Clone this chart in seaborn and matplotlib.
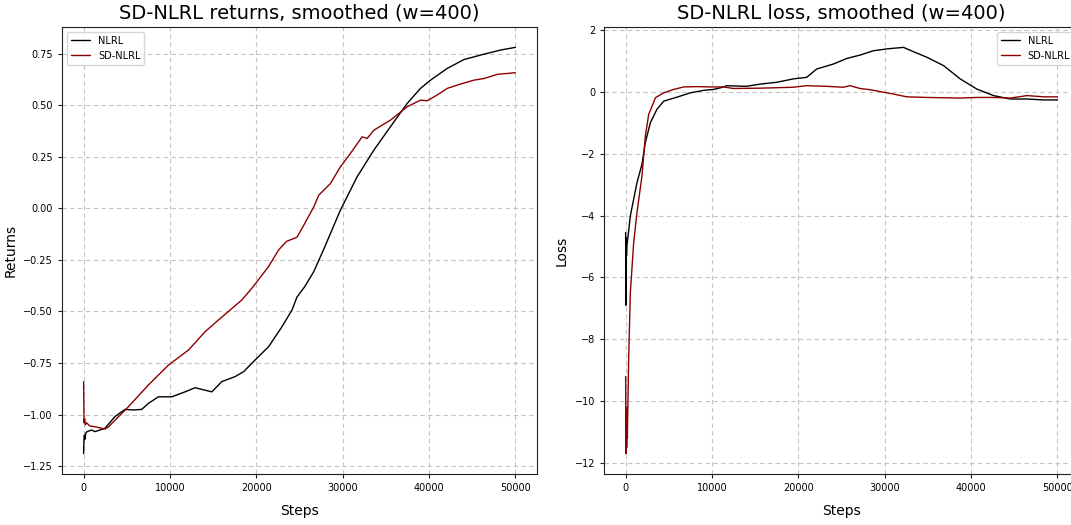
import numpy as np
import pandas as pd
import seaborn as sns
import matplotlib
matplotlib.use("Agg")
import matplotlib.pyplot as plt

# ---------- data (smoothed curves, w=400) ----------
# returns, NLRL
ret_nlrl_steps = [0, 40, 90, 150, 250, 400, 930, 1310, 2470, 3630, 4790, 5760, 6730,
                  7500, 8660, 10210, 11750, 12910, 14850, 16010, 17550, 18530, 19870,
                  21420, 22970, 24130, 24710, 25600, 26650, 27810, 29730, 31670, 33600,
                  35530, 37470, 39010, 40170, 42110, 44050, 46370, 48290, 50000]
ret_nlrl_vals = [-1.19, -1.12, -1.10, -1.12, -1.09, -1.083, -1.075, -1.083, -1.067, -1.01,
                 -0.975, -0.978, -0.975, -0.946, -0.914, -0.914, -0.89, -0.87, -0.89,
                 -0.84, -0.816, -0.792, -0.735, -0.671, -0.574, -0.493, -0.43, -0.38,
                 -0.307, -0.198, -0.009, 0.153, 0.282, 0.396, 0.509, 0.582, 0.622, 0.679,
                 0.722, 0.748, 0.768, 0.781]

# returns, SD-NLRL
ret_sd_steps = [0, 50, 120, 200, 350, 700, 1310, 2470, 2870, 5190, 7500, 9830, 12150,
                14070, 15630, 18330, 19490, 21420, 22590, 23500, 24710, 25490, 26650,
                27230, 28570, 29730, 30890, 32250, 32830, 33600, 35530, 37470, 39010,
                39790, 40950, 42110, 43650, 45200, 46370, 47910, 50000]
ret_sd_vals = [-0.84, -1.04, -1.02, -1.05, -1.04, -1.055, -1.059, -1.07, -1.06, -0.962,
               -0.857, -0.76, -0.687, -0.598, -0.541, -0.444, -0.387, -0.282, -0.201,
               -0.16, -0.14, -0.082, 0.007, 0.064, 0.12, 0.201, 0.266, 0.347, 0.339,
               0.379, 0.428, 0.493, 0.525, 0.522, 0.55, 0.582, 0.603, 0.622, 0.63, 0.65,
               0.658]

# loss, NLRL
loss_nlrl_steps = [0, 30, 60, 100, 150, 545, 930, 1310, 1890, 2280, 2860, 3630, 4410,
                   5950, 7500, 9050, 10210, 11370, 11680, 14000, 15540, 17480, 19410,
                   20960, 22120, 24050, 25600, 27140, 28690, 30240, 31010, 32170, 33330,
                   34880, 36810, 38740, 40680, 42610, 44540, 46480, 48410, 50000]
loss_nlrl_vals = [-4.55, -6.9, -4.7, -5.3, -4.98, -4.01, -3.47, -2.94, -2.34, -1.64, -1.0,
                  -0.56, -0.30, -0.17, -0.03, 0.05, 0.08, 0.16, 0.20, 0.18, 0.25, 0.31,
                  0.42, 0.47, 0.74, 0.90, 1.08, 1.19, 1.33, 1.39, 1.41, 1.44, 1.30, 1.12,
                  0.85, 0.42, 0.09, -0.12, -0.23, -0.23, -0.26, -0.26]

# loss, SD-NLRL
loss_sd_steps = [0, 40, 80, 120, 160, 200, 260, 350, 545, 930, 1310, 1890, 2280, 2670,
                 3450, 4410, 5570, 6730, 8270, 9830, 11370, 12450, 15540, 19410, 20960,
                 23280, 25210, 25980, 27140, 28300, 29850, 31010, 32560, 34880, 38740,
                 40680, 42610, 44540, 46480, 48410, 50000]
loss_sd_vals = [-9.2, -11.7, -10.3, -11.5, -10.2, -11.2, -10.1, -8.65, -6.49, -4.88, -3.91,
                -2.72, -1.43, -0.73, -0.19, -0.03, 0.08, 0.16, 0.17, 0.16, 0.16, 0.11,
                0.12, 0.15, 0.20, 0.18, 0.15, 0.20, 0.11, 0.07, -0.01, -0.07, -0.16,
                -0.18, -0.20, -0.18, -0.18, -0.20, -0.12, -0.16, -0.16]

colors = {"NLRL": "black", "SD-NLRL": "#8b0000"}

sns.set_style("ticks", {"axes.edgecolor": "#222222", "text.color": "black",
                        "axes.labelcolor": "black", "xtick.color": "#222222",
                        "ytick.color": "#222222"})
plt.rcParams['font.family'] = ['DejaVu Sans']

fig = plt.figure(figsize=(10.71, 5.25), dpi=100)
ax1 = fig.add_axes([0.0579, 0.0971, 0.4435, 0.8514])
ax2 = fig.add_axes([0.5640, 0.0971, 0.4435, 0.8514])

panels = [
    (ax1, ret_nlrl_steps, ret_nlrl_vals, ret_sd_steps, ret_sd_vals,
     "SD-NLRL returns, smoothed (w=400)", "Returns", "upper left"),
    (ax2, loss_nlrl_steps, loss_nlrl_vals, loss_sd_steps, loss_sd_vals,
     "SD-NLRL loss, smoothed (w=400)", "Loss", "upper right"),
]

for ax, xs1, ys1, xs2, ys2, title, ylab, loc in panels:
    sns.lineplot(x=xs1, y=ys1, ax=ax, color=colors["NLRL"], lw=1,
                 label="NLRL", estimator=None, sort=False)
    sns.lineplot(x=xs2, y=ys2, ax=ax, color=colors["SD-NLRL"], lw=1,
                 label="SD-NLRL", estimator=None, sort=False)
    ax.set_title(title, fontsize=14, color="black")
    ax.set_xlabel("Steps", fontsize=10, labelpad=8)
    ax.set_ylabel(ylab, fontsize=10)
    ax.set_xticks([0, 10000, 20000, 30000, 40000, 50000])
    ax.tick_params(labelsize=7, length=3, labelcolor="black")
    ax.grid(True, linestyle=(0, (4, 3)), color="#c4c4c4", lw=0.8)
    ax.legend(loc=loc, fontsize=7)

ax1.set_yticks([-1.25, -1.0, -0.75, -0.5, -0.25, 0.0, 0.25, 0.5, 0.75])
ax1.set_yticklabels([f"{v:.2f}".replace("-", "\u2212") for v in ax1.get_yticks()])
ax2.set_yticks([-12, -10, -8, -6, -4, -2, 0, 2])

fig.savefig("out.png", dpi=100)
